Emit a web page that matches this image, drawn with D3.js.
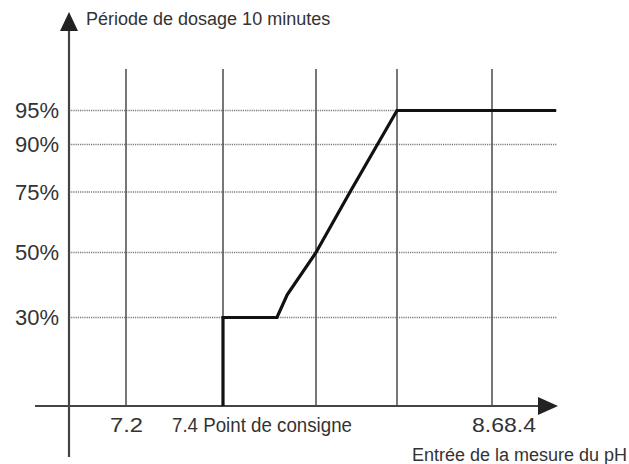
<!DOCTYPE html>
<html>
<head>
<meta charset="utf-8">
<script src="https://cdn.jsdelivr.net/npm/d3@7"></script>
<style>
  body { margin: 0; background: #fff; }
  text { font-family: "Liberation Sans", Arial, sans-serif; fill: #333; }
</style>
</head>
<body>
<div id="chart"></div>
<script>
// schematic chart: dosing period (%) vs pH input
const yTicks = [30, 50, 75, 90, 95];
const yLabels = ["30%", "50%", "75%", "90%", "95%"];
const xGrid = [7.2, 7.4, 7.6, 7.8, 8.0];
const xLabels = [
  { v: 7.2, text: "7.2" },
  { v: 7.4, text: "7.4 Point de consigne" },
  { v: 8.0, text: "8.68.4" }
];
// dosing curve
const curveX = [7.4, 7.4, 7.516, 7.538, 7.6, 7.684, 7.8, 8.135];
const curveY = [0, 30, 30, 37, 50, 75, 95, 95];

const yTitle = "Période de dosage 10 minutes";
const xTitle = "Entrée de la mesure du pH";

const width = 629, height = 464;
const axisX = 69, axisY = 406;

const svg = d3.select("#chart").append("svg")
  .attr("width", width)
  .attr("height", height);

// piecewise scales: the drawing is not to scale
const x = d3.scaleLinear().domain(xGrid).range([126, 223, 316, 397, 492]);
const y = d3.scaleLinear().domain([0, 30, 50, 75, 90, 95]).range([axisY, 317.5, 252.5, 192, 144.5, 110.5]);

const gridRight = 557;

// horizontal dotted gridlines
svg.append("g").selectAll("line").data(yTicks).join("line")
  .attr("x1", axisX).attr("x2", gridRight)
  .attr("y1", d => y(d)).attr("y2", d => y(d))
  .attr("stroke", "#7a7a7a")
  .attr("stroke-width", 1.6)
  .attr("stroke-dasharray", "1.2,1");

// vertical gridlines
svg.append("g").selectAll("line").data(xGrid).join("line")
  .attr("x1", d => x(d)).attr("x2", d => x(d))
  .attr("y1", 69).attr("y2", axisY)
  .attr("stroke", "#555")
  .attr("stroke-width", 1.6);

// axes
svg.append("line")
  .attr("x1", axisX).attr("x2", axisX).attr("y1", 28).attr("y2", 457)
  .attr("stroke", "#444").attr("stroke-width", 2.2);
svg.append("line")
  .attr("x1", 35).attr("x2", 542).attr("y1", axisY).attr("y2", axisY)
  .attr("stroke", "#444").attr("stroke-width", 2.2);

// arrow heads
svg.append("path")
  .attr("d", `M${axisX},12 L${axisX + 9},31 L${axisX - 9},31 Z`)
  .attr("fill", "#222");
svg.append("path")
  .attr("d", `M558,${axisY} L538,${axisY - 9} L538,${axisY + 9} Z`)
  .attr("fill", "#222");

// y labels
svg.append("g").selectAll("text").data(yTicks).join("text")
  .attr("x", 59)
  .attr("y", d => y(d))
  .attr("dy", "0.36em")
  .attr("text-anchor", "end")
  .attr("font-size", 22)
  .text((d, i) => yLabels[i]);

// x labels (the source lettering is slightly condensed)
const xLabelPos = { 7.2: [110, 33], 7.4: [172, 180], 8.0: [472, 64] };
svg.append("g").selectAll("text").data(xLabels).join("text")
  .attr("x", d => xLabelPos[d.v][0])
  .attr("y", 432)
  .attr("font-size", 20)
  .attr("textLength", d => xLabelPos[d.v][1])
  .attr("lengthAdjust", "spacingAndGlyphs")
  .text(d => d.text);

// titles
svg.append("text")
  .attr("x", 86).attr("y", 25)
  .attr("font-size", 18)
  .text(yTitle);
svg.append("text")
  .attr("x", 627).attr("y", 461)
  .attr("text-anchor", "end")
  .attr("font-size", 18)
  .text(xTitle);

// the dosing curve
const pts = curveX.map((v, i) => [v, curveY[i]]);
svg.append("path")
  .datum(pts)
  .attr("d", d3.line().x(d => x(d[0])).y(d => y(d[1])))
  .attr("fill", "none")
  .attr("stroke", "#111")
  .attr("stroke-width", 3.2)
  .attr("stroke-linejoin", "miter");
</script>
</body>
</html>
